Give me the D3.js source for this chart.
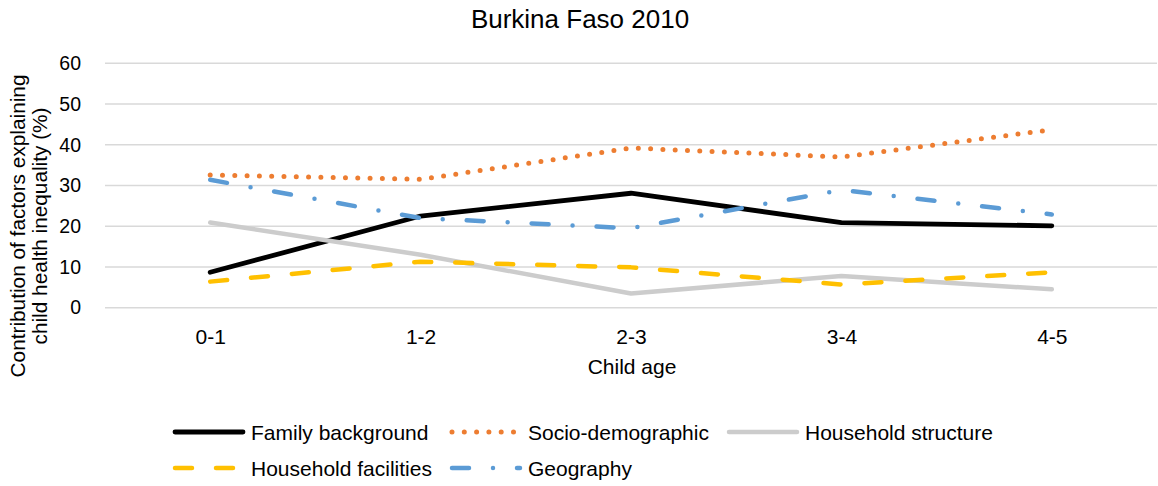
<!DOCTYPE html>
<html>
<head>
<meta charset="utf-8">
<script src="https://cdn.jsdelivr.net/npm/d3@7"></script>
<style>
  html, body { margin: 0; padding: 0; background: #fff; }
  svg { display: block; font-family: "Liberation Sans", Arial, sans-serif; }
</style>
</head>
<body>
<svg id="chart" width="1158" height="486"></svg>
<script>
// Child age groups
const categories = ["0-1", "1-2", "2-3", "3-4", "4-5"];

// Contribution (%) of each factor group
const familyBackground   = [8.7, 22.5, 28.1, 20.9, 20.1];
const socioDemographic   = [32.6, 31.5, 39.2, 37.0, 43.7];
const householdStructure = [20.9, 13.0, 3.5, 7.8, 4.5];
const householdFacilities = [6.4, 11.3, 9.9, 5.7, 8.7];
const geography          = [31.4, 22.0, 19.5, 28.9, 22.9];

const yTicks = [0, 10, 20, 30, 40, 50, 60];

const seriesNames = ["Family background", "Socio-demographic", "Household structure",
                     "Household facilities", "Geography"];
const seriesValues = [familyBackground, socioDemographic, householdStructure,
                      householdFacilities, geography];

// Line styles per series
const styles = [
  { color: "#000000", width: 4.8, dash: null, cap: "round" },
  { color: "#ED7D31", width: 5, dash: "0,12.3", cap: "round" },
  { color: "#CCCCCC", width: 4.5, dash: null, cap: "round" },
  { color: "#FFC000", width: 4.5, dash: "17,24", cap: "round" },
  { color: "#5B9BD5", width: 4.5, dash: "17,24,0,24", cap: "round" }
];

const svg = d3.select("#chart");

const plot = { left: 105, right: 1157, top: 63.3, bottom: 307.7 };

const x = d3.scalePoint()
  .domain(categories)
  .range([plot.left, plot.right])
  .padding(0.5);

const y = d3.scaleLinear()
  .domain([0, 60])
  .range([plot.bottom, plot.top]);

// Title
svg.append("text")
  .attr("x", 580).attr("y", 28)
  .attr("text-anchor", "middle")
  .attr("font-size", 26)
  .attr("fill", "#000")
  .text("Burkina Faso 2010");

// Horizontal gridlines
svg.append("g")
  .selectAll("line")
  .data(yTicks)
  .join("line")
  .attr("x1", plot.left).attr("x2", plot.right)
  .attr("y1", d => y(d)).attr("y2", d => y(d))
  .attr("stroke", "#D9D9D9")
  .attr("stroke-width", 1.5);

// Y axis labels
const yAxis = d3.axisLeft(y).tickValues(yTicks).tickSize(0).tickPadding(0);
const yG = svg.append("g")
  .attr("transform", "translate(81,0)")
  .call(yAxis);
yG.select(".domain").remove();
yG.selectAll("text")
  .attr("font-size", 19.5)
  .attr("font-family", "'Liberation Sans', Arial, sans-serif")
  .attr("fill", "#000");

// X axis labels
const xAxis = d3.axisBottom(x).tickSize(0).tickPadding(0);
const xG = svg.append("g")
  .attr("transform", "translate(0,329)")
  .call(xAxis);
xG.select(".domain").remove();
xG.selectAll("text")
  .attr("font-size", 21)
  .attr("font-family", "'Liberation Sans', Arial, sans-serif")
  .attr("fill", "#000");

// Axis titles
svg.append("text")
  .attr("x", 632).attr("y", 374)
  .attr("text-anchor", "middle")
  .attr("font-size", 21)
  .text("Child age");

const yTitle = svg.append("text")
  .attr("transform", "translate(0,226) rotate(-90)")
  .attr("text-anchor", "middle")
  .attr("font-size", 20.8);
yTitle.append("tspan").attr("x", 0).attr("y", 25).text("Contribution of factors explaining");
yTitle.append("tspan").attr("x", 0).attr("y", 47).text("child health inequality (%)");

// Series lines
const line = d3.line()
  .x((d, i) => x(categories[i]))
  .y(d => y(d));

seriesValues.forEach((vals, k) => {
  const s = styles[k];
  svg.append("path")
    .datum(vals)
    .attr("d", line)
    .attr("fill", "none")
    .attr("stroke", s.color)
    .attr("stroke-width", s.width)
    .attr("stroke-linecap", s.cap)
    .attr("stroke-linejoin", "round")
    .attr("stroke-dasharray", s.dash);
});

// Legend
const legendItems = [
  { row: 0, x: 175 }, { row: 0, x: 452 }, { row: 0, x: 729 },
  { row: 1, x: 175 }, { row: 1, x: 452 }
];
const legendRowY = [432, 468];

legendItems.forEach((it, k) => {
  const s = styles[k];
  const g = svg.append("g");
  const ly = legendRowY[it.row];
  g.append("line")
    .attr("x1", it.x).attr("x2", it.x + 68)
    .attr("y1", ly).attr("y2", ly)
    .attr("stroke", s.color)
    .attr("stroke-width", s.width)
    .attr("stroke-linecap", s.cap)
    .attr("stroke-dasharray", s.dash);
  g.append("text")
    .attr("x", it.x + 76).attr("y", ly + 7.5)
    .attr("font-size", 21)
    .text(seriesNames[k]);
});
</script>
</body>
</html>
